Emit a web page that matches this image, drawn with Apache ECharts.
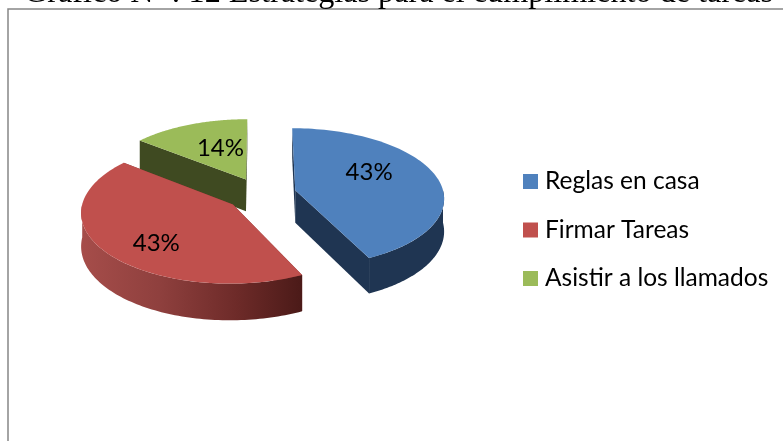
<!DOCTYPE html>
<html>
<head>
<meta charset="utf-8">
<style>html,body{margin:0;padding:0;background:#fff;overflow:hidden}#c{width:783px;height:441px}</style>
<script src="https://cdn.jsdelivr.net/npm/echarts@6/dist/echarts.min.js"></script>
</head>
<body>
<div id="c"></div>
<script>
const titleText = 'Gráfico Nº : 12 Estrategias para el cumplimiento de tareas';
const categories = ['Reglas en casa', 'Firmar Tareas', 'Asistir a los llamados'];
const values = [3, 3, 1];
const percentLabels = ['43%', '43%', '14%'];
const topColors = ['#4f81bd', '#c0504d', '#9bbb59'];
const wallColors = ['#1f3552', '#7f3533', '#3f4a21'];

const total = values.reduce((a, b) => a + b, 0);
const CX = 261, CY = 194, R = 148.5, SQUASH = 0.465, PERSP = 0.1, DEPTH = 32.5, EXPLODE = 0.238;
// label placement per slice: radial fraction and nudges
const LABEL_R = [0.5, 0.67, 0.36];
const LABEL_DX = [3, 7, -4];
const LABEL_DY = [-11, 8, -10];

function project(x, y, drop) {
  const s = 1 / (1 + PERSP * y);
  return [CX + R * x * s, CY - R * SQUASH * y * s + (drop ? DEPTH * s : 0)];
}
function sliceGeom(i) {
  let before = 0;
  for (let k = 0; k < i; k++) before += values[k];
  const a0 = before / total * 2 * Math.PI;
  const a1 = (before + values[i]) / total * 2 * Math.PI;
  const m = (a0 + a1) / 2;
  return { a0, a1, m, ox: EXPLODE * Math.sin(m), oy: EXPLODE * Math.cos(m) };
}
function rim(g, from, to, drop) {
  const pts = [], n = 90;
  for (let j = 0; j <= n; j++) {
    const t = from + (to - from) * j / n;
    pts.push(project(g.ox + Math.sin(t), g.oy + Math.cos(t), drop));
  }
  return pts;
}
function renderSlice(i) {
  return function () {
    const g = sliceGeom(i);
    const children = [];
    const apexT = project(g.ox, g.oy, false), apexB = project(g.ox, g.oy, true);
    [g.a0, g.a1].forEach(function (a) {
      const t = project(g.ox + Math.sin(a), g.oy + Math.cos(a), false);
      const b = project(g.ox + Math.sin(a), g.oy + Math.cos(a), true);
      children.push({ type: 'polygon', shape: { points: [apexT, t, b, apexB] }, style: { fill: wallColors[i] } });
    });
    const from = Math.max(g.a0, Math.PI / 2), to = Math.min(g.a1, 3 * Math.PI / 2);
    if (to > from) {
      const upper = rim(g, from, to, false), lower = rim(g, from, to, true).reverse();
      const fill = i === 1
        ? new echarts.graphic.LinearGradient(0, 0, 1, 0, [
            { offset: 0, color: '#a64d4a' }, { offset: 0.35, color: '#8f403e' },
            { offset: 0.7, color: '#6e2b29' }, { offset: 1, color: '#4b1a18' }])
        : wallColors[i];
      children.push({ type: 'polygon', shape: { points: upper.concat(lower) }, style: { fill: fill } });
    }
    children.push({ type: 'polygon', shape: { points: [apexT].concat(rim(g, g.a0, g.a1, false)) }, style: { fill: topColors[i] } });
    const lp = project(g.ox + LABEL_R[i] * Math.sin(g.m), g.oy + LABEL_R[i] * Math.cos(g.m), false);
    children.push({ type: 'text', z2: 10, style: { x: lp[0] + LABEL_DX[i], y: lp[1] + LABEL_DY[i], text: percentLabels[i], fill: '#000',
      font: '24px Lato', align: 'center', verticalAlign: 'middle' } });
    return { type: 'group', children: children };
  };
}
const drawOrder = [2, 0, 1];
const chart = echarts.init(document.getElementById('c'), null, { renderer: 'canvas' });
chart.setOption({
  animation: false,
  title: { text: titleText, left: 24, top: -22, padding: 0,
    textStyle: { fontFamily: 'Liberation Serif', fontSize: 32.2, fontWeight: 'normal', color: '#000' } },
  legend: { orient: 'vertical', left: 518, top: 164, icon: 'rect', itemWidth: 15, itemHeight: 15, itemGap: 23.5,
    data: categories, selectedMode: false,
    textStyle: { fontFamily: 'Lato', fontSize: 24.5, color: '#000', padding: [4, 0, 0, 2] } },
  graphic: [{ type: 'rect', silent: true, z: -1, shape: { x: 8, y: 9, width: 900, height: 900 },
    style: { fill: 'none', stroke: '#868686', lineWidth: 1.5 } }],
  series: drawOrder.map(function (i, order) {
    return { type: 'custom', name: categories[i], coordinateSystem: 'none', z: 2 + order, silent: true,
      itemStyle: { color: topColors[i] }, data: [values[i]], renderItem: renderSlice(i) };
  })
});
</script>
</body>
</html>
